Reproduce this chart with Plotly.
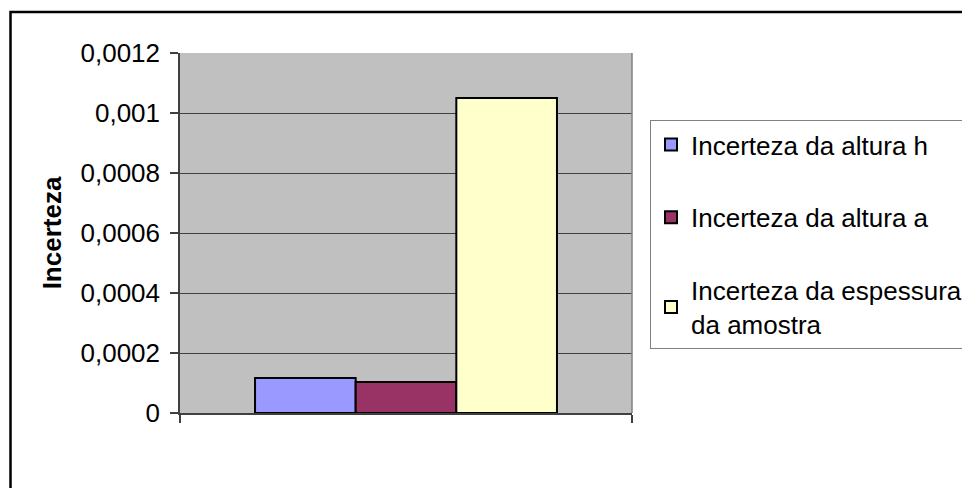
import plotly.graph_objects as go

# Uncertainty contributions
series_names = [
    "Incerteza da altura h",
    "Incerteza da altura a",
    "Incerteza da espessura<br>da amostra",
]
series_values = [0.000117, 0.000103, 0.00105]
series_colors = ["#9999FF", "#993366", "#FFFFCC"]
category = [""]

y_tickvals = [0, 0.0002, 0.0004, 0.0006, 0.0008, 0.001, 0.0012]
y_ticktext = ["0", "0,0002", "0,0004", "0,0006", "0,0008", "0,001", "0,0012"]

FONT = "Arial, Liberation Sans, sans-serif"

fig = go.Figure()
for i, (name, val, col) in enumerate(zip(series_names, series_values, series_colors)):
    fig.add_trace(go.Bar(
        x=category, y=[val], name=name,
        legendgroup=f"g{i}",
        marker=dict(color=col, line=dict(color="black", width=2)),
    ))

# plot area in pixels: left 180, right 632, top 53, bottom 413
L, R, T, B = 180, 632, 53, 413
W, H = 962, 488
pw, ph = R - L, B - T

def px_x(x):
    return (x - L) / pw

def px_y(y):
    return (B - y) / ph

fig.update_layout(
    width=W, height=H,
    margin=dict(l=L, r=W - R, t=T, b=H - B, pad=0, autoexpand=False),
    paper_bgcolor="white",
    plot_bgcolor="#C0C0C0",
    font=dict(family=FONT, size=26, color="black"),
    barmode="group",
    bargap=0.332,
    bargroupgap=0,
    showlegend=True,
    legend=dict(
        x=px_x(650), xanchor="left",
        y=px_y(120), yanchor="top",
        bordercolor="#808080", borderwidth=1,
        bgcolor="white",
        traceorder="grouped",
        tracegroupgap=36,
        itemwidth=30,
        font=dict(family=FONT, size=26, color="black"),
    ),
    xaxis=dict(
        type="category",
        showticklabels=False,
        ticks="outside", ticklen=8, tickcolor="#404040", tickwidth=1.5,
        tickson="boundaries",
        showline=True, linecolor="#404040", linewidth=1.5,
        showgrid=False, zeroline=False,
    ),
    yaxis=dict(
        range=[0, 0.0012],
        tickvals=y_tickvals, ticktext=y_ticktext,
        ticks="outside", ticklen=8, tickcolor="#404040", tickwidth=1.5,
        ticklabelstandoff=5,
        showline=True, linecolor="#404040", linewidth=1.5,
        showgrid=True, gridcolor="#404040", gridwidth=1,
        zeroline=False,
        tickfont=dict(family=FONT, size=26, color="black"),
        title=dict(text="<b>Incerteza</b>", standoff=11,
                   font=dict(family=FONT, size=26, color="black")),
    ),
    shapes=[
        # right edge of the plot area
        dict(type="line", xref="paper", yref="paper", x0=1, x1=1, y0=0, y1=1,
             line=dict(color="#808080", width=1.5)),
        # outer chart frame
        dict(type="rect", xref="paper", yref="paper",
             x0=px_x(10.5), x1=px_x(975), y0=px_y(12), y1=px_y(500),
             line=dict(color="black", width=2.5), layer="above"),
    ],
)

fig.write_html("out.html")
